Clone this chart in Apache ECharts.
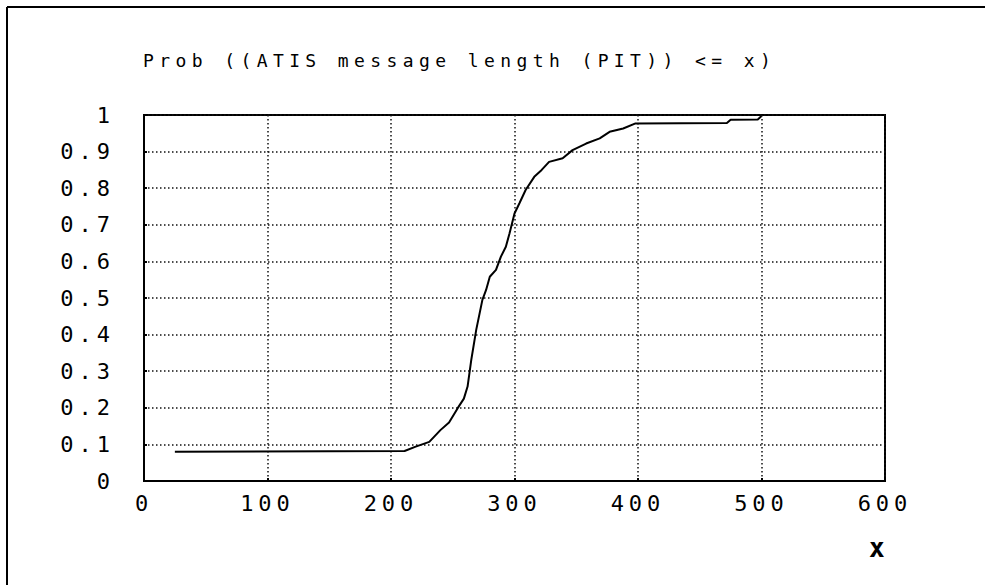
<!DOCTYPE html>
<html>
<head>
<meta charset="utf-8">
<script src="https://cdn.jsdelivr.net/npm/echarts@6/dist/echarts.min.js"></script>
<style>
  html, body { margin: 0; padding: 0; background: #fff; }
  #chart { width: 985px; height: 585px; }
  #chart [style*="22px"] { letter-spacing: 5px; }
  #chart [style*="18px"] { letter-spacing: 5.4px; }
</style>
</head>
<body>
<div id="chart"></div>
<script>
const titleText = 'Prob ((ATIS message length (PIT)) <= x)';
const xName = 'x';
const xValues = [25, 211, 220, 231, 240, 247, 254, 259, 262, 265, 269, 274, 277, 280, 285, 289, 293, 296, 300, 304, 309, 316, 322, 328, 339, 347, 358, 369, 377, 388, 398, 472, 475, 497, 500];
const yValues = [0.080, 0.082, 0.094, 0.107, 0.139, 0.160, 0.199, 0.225, 0.258, 0.331, 0.413, 0.495, 0.522, 0.558, 0.577, 0.613, 0.640, 0.677, 0.731, 0.759, 0.795, 0.831, 0.850, 0.872, 0.882, 0.904, 0.922, 0.936, 0.954, 0.963, 0.977, 0.978, 0.987, 0.988, 0.997];

const FONT = 'DejaVu Sans Mono';
const chart = echarts.init(document.getElementById('chart'), null, { renderer: 'svg' });
chart.setOption({
  backgroundColor: '#fff',
  animation: false,
  title: {
    text: titleText,
    left: 143,
    top: 51,
    padding: 0,
    textStyle: { fontFamily: FONT, fontSize: 18, fontWeight: 'normal', color: '#000' }
  },
  graphic: [
    { type: 'line', shape: { x1: 7, y1: 7, x2: 985, y2: 7 }, style: { stroke: '#000', lineWidth: 2 } },
    { type: 'line', shape: { x1: 7, y1: 7, x2: 7, y2: 585 }, style: { stroke: '#000', lineWidth: 2 } }
  ],
  grid: {
    left: 144, right: 100, top: 115, bottom: 104,
    show: true, borderColor: '#000', borderWidth: 2, backgroundColor: 'transparent'
  },
  xAxis: {
    type: 'value', min: 0, max: 600, interval: 100,
    name: xName, nameLocation: 'end', nameGap: -16,
    nameTextStyle: { fontFamily: FONT, fontSize: 26, fontWeight: 'bold', color: '#000', verticalAlign: 'top', padding: [54, 0, 0, 0] },
    axisLine: { show: true, lineStyle: { color: '#000', width: 2 } },
    axisTick: { show: true, inside: true, length: 3, lineStyle: { color: '#000', width: 2 } },
    axisLabel: { fontFamily: FONT, fontSize: 22, color: '#000', margin: 11 },
    splitLine: { show: true, lineStyle: { color: '#111', width: 1.5, type: [1.5, 2.5] } }
  },
  yAxis: {
    type: 'value', min: 0, max: 1, interval: 0.1,
    axisLine: { show: true, lineStyle: { color: '#000', width: 2 } },
    axisTick: { show: true, inside: true, length: 3, lineStyle: { color: '#000', width: 2 } },
    axisLabel: { fontFamily: FONT, fontSize: 22, color: '#000', margin: 29 },
    splitLine: { show: true, lineStyle: { color: '#111', width: 1.5, type: [1.5, 2.5] } }
  },
  series: [{
    type: 'line',
    data: xValues.map((x, i) => [x, yValues[i]]),
    showSymbol: false,
    lineStyle: { color: '#000', width: 2 },
    itemStyle: { color: '#000' }
  }]
});
</script>
</body>
</html>
